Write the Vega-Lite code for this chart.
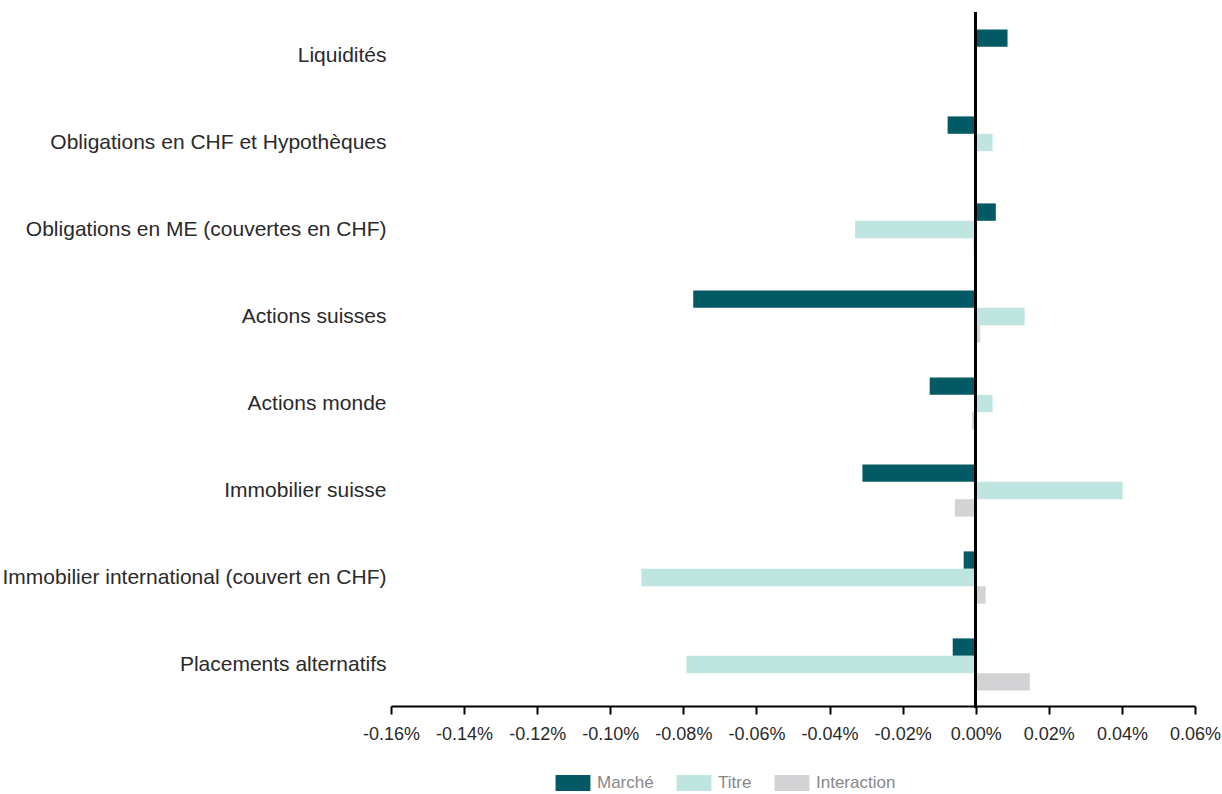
{
  "$schema": "https://vega.github.io/schema/vega-lite/v6.json",
  "width": 804,
  "height": 696,
  "autosize": "none",
  "padding": {"left": 391, "top": 12, "right": 27, "bottom": 86},
  "background": "white",
  "config": {
    "view": {"stroke": null},
    "font": "Liberation Sans"
  },
  "data": {
    "values": [
      {"cat": "Liquidités", "serie": "Marché", "v": 0.0087},
      {"cat": "Liquidités", "serie": "Titre", "v": 0.0002},
      {"cat": "Liquidités", "serie": "Interaction", "v": 0.0001},
      {"cat": "Obligations en CHF et Hypothèques", "serie": "Marché", "v": -0.0077},
      {"cat": "Obligations en CHF et Hypothèques", "serie": "Titre", "v": 0.0046},
      {"cat": "Obligations en CHF et Hypothèques", "serie": "Interaction", "v": 0.0},
      {"cat": "Obligations en ME (couvertes en CHF)", "serie": "Marché", "v": 0.0055},
      {"cat": "Obligations en ME (couvertes en CHF)", "serie": "Titre", "v": -0.033},
      {"cat": "Obligations en ME (couvertes en CHF)", "serie": "Interaction", "v": -0.0006},
      {"cat": "Actions suisses", "serie": "Marché", "v": -0.0773},
      {"cat": "Actions suisses", "serie": "Titre", "v": 0.0134},
      {"cat": "Actions suisses", "serie": "Interaction", "v": 0.0012},
      {"cat": "Actions monde", "serie": "Marché", "v": -0.0126},
      {"cat": "Actions monde", "serie": "Titre", "v": 0.0046},
      {"cat": "Actions monde", "serie": "Interaction", "v": -0.001},
      {"cat": "Immobilier suisse", "serie": "Marché", "v": -0.031},
      {"cat": "Immobilier suisse", "serie": "Titre", "v": 0.0402},
      {"cat": "Immobilier suisse", "serie": "Interaction", "v": -0.0057},
      {"cat": "Immobilier international (couvert en CHF)", "serie": "Marché", "v": -0.0033},
      {"cat": "Immobilier international (couvert en CHF)", "serie": "Titre", "v": -0.0915},
      {"cat": "Immobilier international (couvert en CHF)", "serie": "Interaction", "v": 0.0027},
      {"cat": "Placements alternatifs", "serie": "Marché", "v": -0.0063},
      {"cat": "Placements alternatifs", "serie": "Titre", "v": -0.0792},
      {"cat": "Placements alternatifs", "serie": "Interaction", "v": 0.0148}
    ]
  },
  "layer": [
    {
      "mark": {"type": "bar", "orient": "horizontal"},
      "encoding": {
        "y": {
          "field": "cat",
          "type": "nominal",
          "sort": null,
          "scale": {"paddingInner": 0, "paddingOuter": 0},
          "axis": {
            "title": null,
            "domain": false,
            "ticks": false,
            "labelPadding": 5,
            "labelFontSize": 21,
            "labelColor": "#2a2a2a",
            "labelLimit": 400
          }
        },
        "yOffset": {
          "field": "serie",
          "type": "nominal",
          "sort": ["Marché", "Titre", "Interaction"],
          "scale": {"paddingInner": 0, "paddingOuter": 1.22}
        },
        "x": {
          "field": "v",
          "type": "quantitative",
          "scale": {"domain": [-0.16, 0.06], "nice": false, "zero": false},
          "axis": {
            "title": null,
            "grid": false,
            "values": [-0.16, -0.14, -0.12, -0.1, -0.08, -0.06, -0.04, -0.02, 0, 0.02, 0.04, 0.06],
            "labelExpr": "replace(format(datum.value, '.2f'), '\u2212', '-') + '%'",
            "domainColor": "#000000",
            "domainWidth": 2,
            "tickColor": "#000000",
            "tickWidth": 2,
            "tickSize": 8,
            "labelPadding": 11,
            "labelFontSize": 18,
            "labelColor": "#2a2a2a",
            "labelFlush": false,
            "offset": -2
          }
        },
        "color": {
          "field": "serie",
          "type": "nominal",
          "scale": {
            "domain": ["Marché", "Titre", "Interaction"],
            "range": ["#035a64", "#bfe5e1", "#d3d3d5"]
          },
          "legend": {
            "title": null,
            "orient": "none",
            "legendX": 166,
            "legendY": 755,
            "direction": "horizontal",
            "symbolType": "M-1.09,-0.5H1.09V0.5H-1.09Z",
            "symbolSize": 1024,
            "symbolStrokeWidth": 0,
            "labelFontSize": 17,
            "labelColor": "#888888",
            "labelOffset": 8,
            "columnPadding": 22
          }
        }
      }
    },
    {
      "mark": {"type": "rule", "color": "#000000", "strokeWidth": 2},
      "encoding": {"x": {"datum": 0}}
    }
  ]
}
